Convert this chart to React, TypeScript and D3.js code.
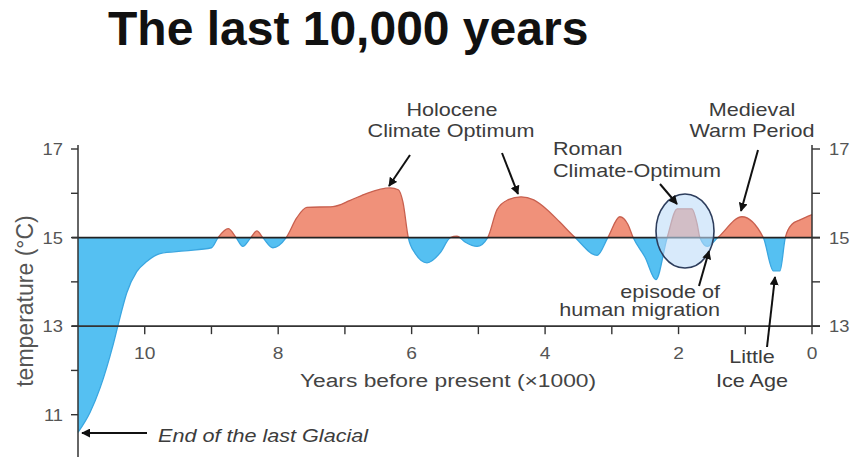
import React from "react";
import * as d3 from "d3";

// Years before present (x1000) and temperature (°C)
const YEARS = [11.0, 10.82, 10.67, 10.47, 10.37, 10.27, 10.12, 9.97, 9.77, 9.4, 9.0, 8.9, 8.75, 8.63, 8.53, 8.41, 8.32, 8.23, 8.08, 7.88, 7.72, 7.57, 7.18, 6.92, 6.67, 6.32, 6.2, 6.13, 6.05, 5.95, 5.77, 5.57, 5.42, 5.32, 5.2, 5.02, 4.86, 4.72, 4.56, 4.36, 4.17, 3.97, 3.78, 3.55, 3.22, 3.06, 2.88, 2.76, 2.68, 2.5, 2.34, 2.17, 2.02, 1.8, 1.72, 1.68, 1.57, 1.41, 1.05, 0.73, 0.58, 0.48, 0.4, 0.3, 0.18, 0.0];
const TEMPS = [10.6, 11.05, 11.6, 12.6, 13.2, 13.75, 14.23, 14.46, 14.64, 14.7, 14.77, 15.0, 15.2, 15.0, 14.8, 15.0, 15.15, 15.0, 14.77, 15.0, 15.45, 15.68, 15.7, 15.84, 16.0, 16.12, 16.08, 15.8, 15.0, 14.65, 14.43, 14.66, 15.0, 15.03, 14.9, 14.8, 15.0, 15.63, 15.85, 15.92, 15.85, 15.63, 15.35, 15.0, 14.6, 15.0, 15.47, 15.3, 15.0, 14.55, 14.05, 15.0, 15.65, 15.65, 15.3, 15.0, 14.8, 15.0, 15.47, 15.0, 14.25, 14.25, 15.0, 15.3, 15.4, 15.52];

const X_MAJOR = [10, 8, 6, 4, 2, 0];
const X_MINOR = [9, 7, 5, 3, 1];
const Y_TICKS_LEFT = [11, 12, 13, 14, 15, 16, 17];
const Y_LABELS_LEFT = [11, 13, 15, 17];
const Y_TICKS_RIGHT = [13, 14, 15, 16, 17];
const Y_LABELS_RIGHT = [13, 15, 17];
const BASELINE = 15;

const FONT = "'Liberation Sans', Arial, Helvetica, sans-serif";
const SX = 1.2;

function T({ x, y, anchor = "start", size = 18, fill = "#3c3c3c", italic = false, sx = SX, children }: any) {
  return (
    <text
      transform={`translate(${x},${y}) scale(${sx},1)`}
      textAnchor={anchor}
      fontSize={size}
      fontFamily={FONT}
      fontStyle={italic ? "italic" : "normal"}
      fill={fill}
    >
      {children}
    </text>
  );
}

export default function App() {
  const W = 850, H = 457;
  const x = d3.scaleLinear().domain([11, 0]).range([78, 812]);
  const y = d3.scaleLinear().domain([10, 17]).range([459, 149]);
  const data = YEARS.map((yr, i) => ({ yr, t: TEMPS[i] }));
  const y0 = y(BASELINE);
  const area = d3.area<any>().x(d => x(d.yr)).y0(y0).y1(d => y(d.t)).curve(d3.curveMonotoneX);
  const line = d3.line<any>().x(d => x(d.yr)).y(d => y(d.t)).curve(d3.curveMonotoneX);
  const xl = x(11), xr = x(0);

  return (
    <svg width={W} height={H} style={{ position: "absolute", left: 0, top: 0, background: "#fff" }}>
      <defs>
        <clipPath id="above"><rect x={0} y={0} width={W} height={y0} /></clipPath>
        <clipPath id="below"><rect x={0} y={y0} width={W} height={H} /></clipPath>
        <marker id="ah" viewBox="0 0 10 10" refX={9} refY={5} markerWidth={9} markerHeight={9} markerUnits="userSpaceOnUse" orient="auto">
          <path d="M0,0 L10,5 L0,10 z" fill="#111" />
        </marker>
      </defs>
      <rect width={W} height={H} fill="#fff" />

      {/* Title */}
      <text x={108} y={45} fontSize={48} fontWeight="bold" fontFamily={FONT} fill="#111">The last 10,000 years</text>

      {/* filled curve */}
      <path d={area(data) || ""} fill="#f0917a" clipPath="url(#above)" />
      <path d={area(data) || ""} fill="#55c0f2" clipPath="url(#below)" />
      <path d={line(data) || ""} fill="none" stroke="#c8604f" strokeWidth={1.3} clipPath="url(#above)" />
      <path d={line(data) || ""} fill="none" stroke="#3aa6e0" strokeWidth={1.3} clipPath="url(#below)" />

      {/* baseline at 15 and x-axis line at 13 */}
      <line x1={xl - 6} x2={xr + 8} y1={y0} y2={y0} stroke="#222" strokeWidth={1.8} />
      <line x1={xl - 6} x2={xr + 8} y1={y(13)} y2={y(13)} stroke="#333" strokeWidth={1.6} />

      {/* left axis */}
      <line x1={xl} x2={xl} y1={y(17) - 4} y2={H} stroke="#333" strokeWidth={1.5} />
      {Y_TICKS_LEFT.map(v => (
        <line key={"lt" + v} x1={xl - 7} x2={xl} y1={y(v)} y2={y(v)} stroke="#333" strokeWidth={1.4} />
      ))}
      {Y_LABELS_LEFT.map(v => (
        <T key={"ll" + v} x={63} y={y(v) + 6} anchor="end" size={17} sx={1.08} fill="#555">{v}</T>
      ))}

      {/* right axis */}
      <line x1={xr} x2={xr} y1={y(17) - 4} y2={y(13)} stroke="#333" strokeWidth={1.5} />
      {Y_TICKS_RIGHT.map(v => (
        <line key={"rt" + v} x1={xr} x2={xr + 8} y1={y(v)} y2={y(v)} stroke="#333" strokeWidth={1.4} />
      ))}
      {Y_LABELS_RIGHT.map(v => (
        <T key={"rl" + v} x={829} y={y(v) + 6} anchor="start" size={17} sx={1.08} fill="#555">{v}</T>
      ))}

      {/* x ticks */}
      {[...X_MAJOR, ...X_MINOR].map(v => (
        <line key={"xt" + v} x1={x(v)} x2={x(v)} y1={y(13)} y2={y(13) + 8} stroke="#333" strokeWidth={1.4} />
      ))}
      {X_MAJOR.map(v => (
        <T key={"xl" + v} x={x(v)} y={359} anchor="middle" size={16} sx={1.2} fill="#555">{v}</T>
      ))}
      <T x={448} y={387} anchor="middle" size={19} sx={1.2} fill="#444">Years before present (×1000)</T>

      {/* y axis title */}
      <text transform="translate(33,301) rotate(-90)" textAnchor="middle" fontSize={23} fontFamily={FONT} fill="#555">temperature (°C)</text>

      {/* Roman optimum ellipse */}
      <ellipse cx={685} cy={231} rx={29} ry={37} fill="rgba(190,220,248,0.6)" stroke="#2d3d5c" strokeWidth={1.6} />

      {/* annotations */}
      <T x={452} y={116} anchor="middle">Holocene</T>
      <T x={451} y={137} anchor="middle">Climate Optimum</T>
      <line x1={410} y1={155} x2={389} y2={186} stroke="#111" strokeWidth={2} markerEnd="url(#ah)" />
      <line x1={502} y1={153} x2={518} y2={194} stroke="#111" strokeWidth={2} markerEnd="url(#ah)" />

      <T x={752} y={116} anchor="middle">Medieval</T>
      <T x={752} y={137} anchor="middle">Warm Period</T>
      <line x1={758} y1={150} x2={741} y2={211} stroke="#111" strokeWidth={2} markerEnd="url(#ah)" />

      <T x={553} y={155}>Roman</T>
      <T x={553} y={177}>Climate-Optimum</T>
      <line x1={660} y1={184} x2={677} y2={204} stroke="#111" strokeWidth={2} markerEnd="url(#ah)" />

      <T x={720} y={298} anchor="end">episode of</T>
      <T x={720} y={316} anchor="end">human migration</T>
      <line x1={699} y1={286} x2={709} y2={251} stroke="#111" strokeWidth={2} markerEnd="url(#ah)" />

      <T x={752} y={363} anchor="middle">Little</T>
      <T x={752} y={387} anchor="middle">Ice Age</T>
      <line x1={767} y1={347} x2={775} y2={277} stroke="#111" strokeWidth={2} markerEnd="url(#ah)" />

      <T x={158} y={442} italic size={18} sx={1.2}>End of the last Glacial</T>
      <line x1={147} y1={433} x2={82} y2={433} stroke="#111" strokeWidth={2} markerEnd="url(#ah)" />
    </svg>
  );
}
